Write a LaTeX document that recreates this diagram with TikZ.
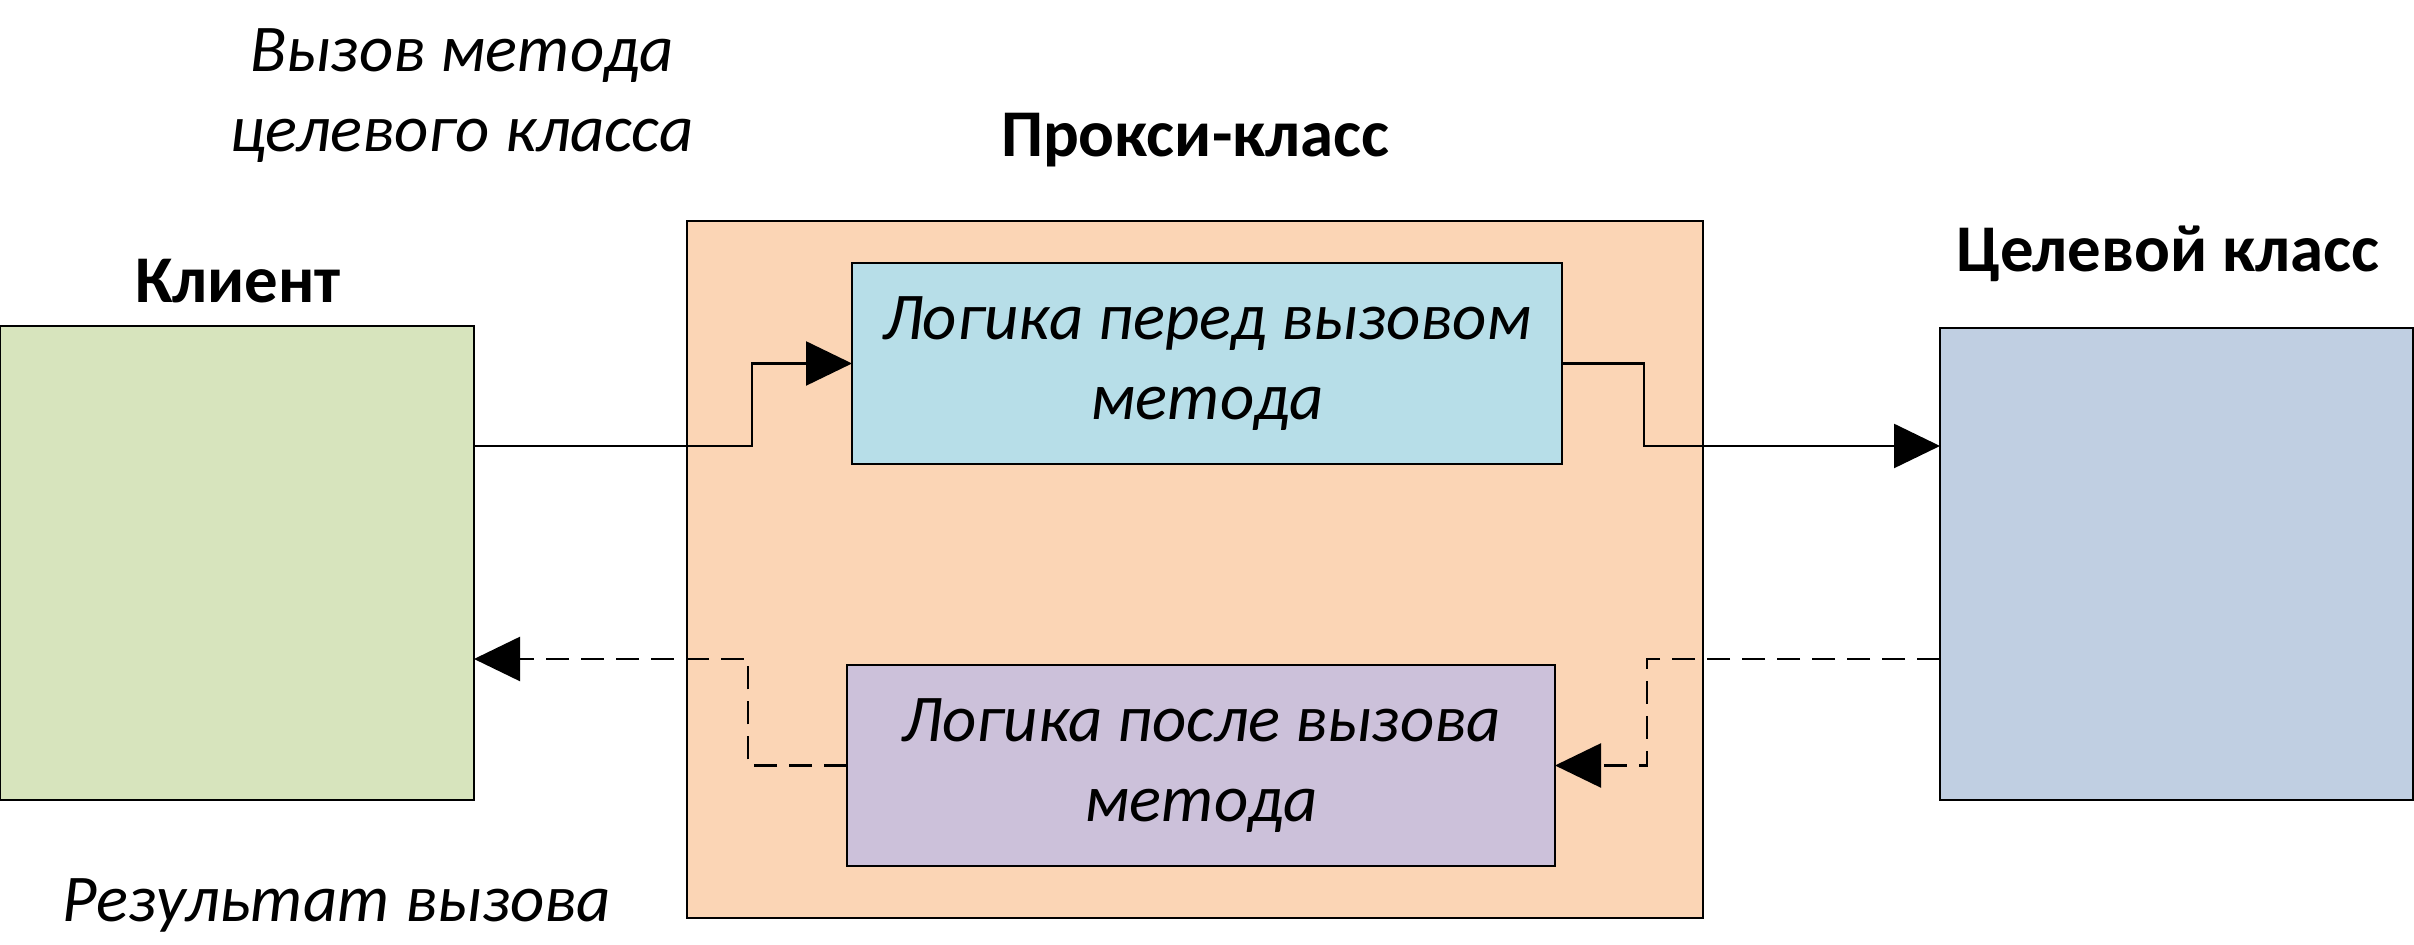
\documentclass[tikz,border=0pt]{standalone}
\usepackage{fontspec}
\setmainfont{Carlito}
\usetikzlibrary{arrows.meta,calc}
\definecolor{clientc}{HTML}{D7E4BD}
\definecolor{proxyc}{HTML}{FBD5B5}
\definecolor{beforec}{HTML}{B7DEE8}
\definecolor{afterc}{HTML}{CCC1DA}
\definecolor{targetc}{HTML}{C0CFE2}
\begin{document}
\begin{tikzpicture}[
  box/.style={draw=black, line width=0.8pt, inner sep=0pt, outer sep=0pt, anchor=south west},
  lbl/.style={font=\fontsize{19}{22.8}\selectfont\bfseries, anchor=base, inner sep=0pt},
  itl/.style={font=\fontsize{19}{22.8}\selectfont\itshape, align=center, inner sep=0pt},
  flow/.style={line width=0.7pt, -{Triangle[length=4.6mm,width=4.4mm]}},
  ret/.style={flow, dash pattern=on 0.23cm off 0.12cm},
]
\useasboundingbox (0,0) rectangle (24.14,9.45);
\fill[white] (0,0) rectangle (24.14,9.45);

\node[box, fill=clientc, minimum width=4.74cm, minimum height=4.74cm] (client) at (0,1.45) {};
\node[box, fill=targetc, minimum width=4.73cm, minimum height=4.72cm] (target) at (19.40,1.45) {};
\node[box, fill=proxyc, minimum width=10.16cm, minimum height=6.97cm] (proxy) at (6.87,0.27) {};
\node[box, itl, fill=beforec, minimum width=7.10cm, minimum height=2.01cm] (before) at (8.52,4.81) {Логика перед вызовом\\метода};
\node[box, itl, fill=afterc, minimum width=7.08cm, minimum height=2.01cm] (after) at (8.47,0.79) {Логика после вызова\\метода};

\node[lbl] (clientlbl) at (2.38,6.42) {Клиент};
\node[lbl] (proxylbl) at (11.95,7.88) {Прокси-класс};
\node[lbl] (targetlbl) at (21.68,6.73) {Целевой класс};
\node[itl, anchor=base] (result) at (3.37,0.23) {Результат вызова};
\node[itl] (call) at (4.62,8.49) {Вызов метода\\целевого класса};

\coordinate (cout) at (client.east |- 0,4.99);
\coordinate (tin) at (target.west |- 0,4.99);
\coordinate (tout) at (target.west |- 0,2.86);
\coordinate (cin) at (client.east |- 0,2.86);

\draw[flow] (cout) -- ++(2.78,0) |- (before.west);
\draw[flow] (before.east) -- ++(0.82,0) |- (tin);
\draw[ret] (tout) -- ++(-2.93,0) |- (after.east);
\draw[ret] (after.west) -- ++(-0.99,0) |- (cin);
\end{tikzpicture}
\end{document}
